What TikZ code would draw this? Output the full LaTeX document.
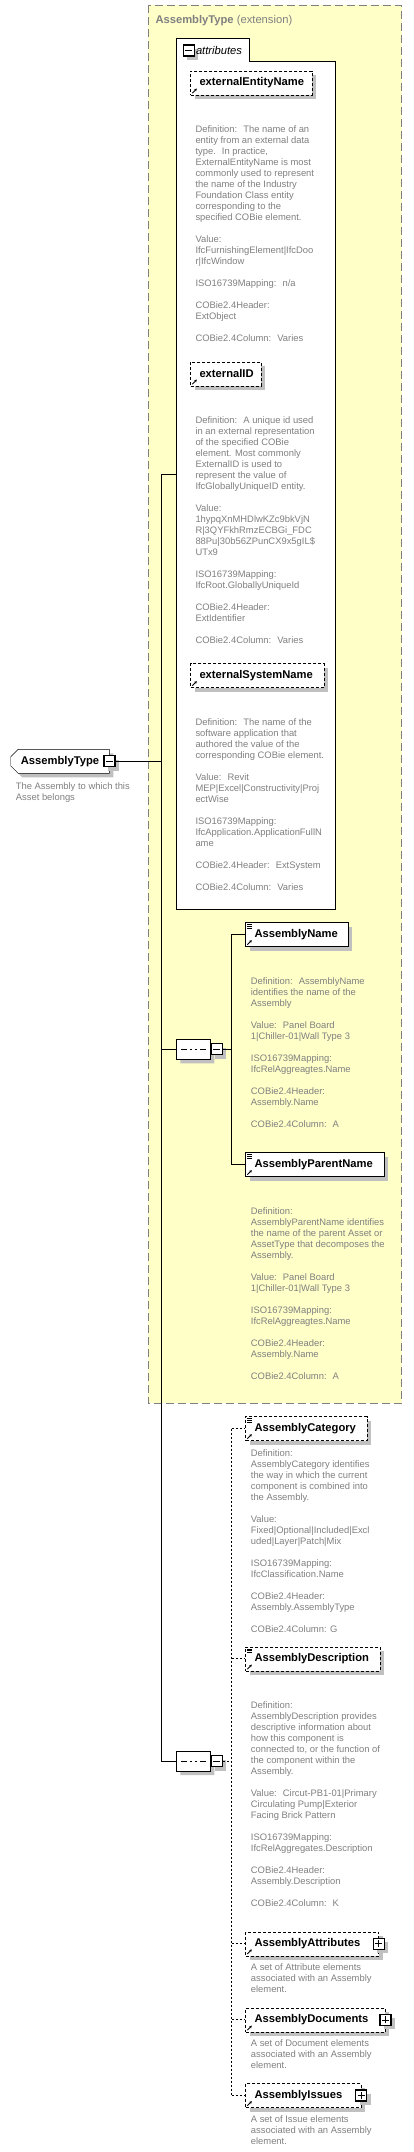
\documentclass[tikz,border=0pt]{standalone}
\usepackage{fontspec}
\setmainfont{Liberation Sans}
\usetikzlibrary{shapes.misc,shadows,arrows.meta,positioning}
\definecolor{typeyellow}{RGB}{255,255,200}
\definecolor{docgrey}{RGB}{128,128,128}
\definecolor{shadowgrey}{RGB}{192,192,192}
\hyphenpenalty=10000
\exhyphenpenalty=10000

\tikzset{
  shade box/.style={general shadow={fill=shadowgrey,shadow xshift=4pt,shadow yshift=-4pt}},
  elem/.style={draw,fill=white,rectangle,shade box,anchor=north west,minimum height=24pt,
    inner xsep=9pt,inner ysep=0pt,align=left,font=\fontsize{11.2}{13}\selectfont\bfseries},
  optelem/.style={elem,dash pattern=on 3pt off 2pt},
  doc/.style={anchor=north west,inner sep=0pt,align=left,text=docgrey,font=\fontsize{9.4}{11}\selectfont},
  tog/.style={draw,fill=white,line width=1.3pt,minimum size=11pt,inner sep=0pt,shade box,
    path picture={\draw[line width=0.8pt] ([xshift=2pt]path picture bounding box.west) -- ([xshift=-2pt]path picture bounding box.east);}},
  togplus/.style={draw,fill=white,line width=1.3pt,minimum size=11pt,inner sep=0pt,shade box,
    path picture={\draw[line width=0.8pt] ([xshift=2pt]path picture bounding box.west) -- ([xshift=-2pt]path picture bounding box.east)
      ([yshift=2pt]path picture bounding box.south) -- ([yshift=-2pt]path picture bounding box.north);}},
  seq/.style={chamfered rectangle,chamfered rectangle xsep=5pt,draw,fill=white,minimum width=34pt,
    minimum height=20pt,inner sep=0pt,shade box,
    path picture={\draw ([xshift=4.7pt]path picture bounding box.west) -- ([xshift=-4.7pt]path picture bounding box.east);
      \foreach \d in {-5,0,5} \fill ([xshift=\d pt]path picture bounding box.center) +(-1.4pt,-1.4pt) rectangle +(1.4pt,1.4pt);}},
  refmark/.pic={\draw[line width=0.9pt,-{Stealth[length=2.6pt,width=2.8pt]}] (0,0) -- (4.5pt,4.5pt);},
  seqmark/.pic={\draw[line width=0.7pt] (0,0) -- (5pt,0) (0,-1.7pt) -- (5pt,-1.7pt) (0,-3.4pt) -- (5pt,-3.4pt);},
  conn/.style={line width=0.9pt},
  optconn/.style={line width=0.9pt,dash pattern=on 2pt off 2pt}
}

\begin{document}
\begin{tikzpicture}[x=1pt,y=-1pt,>=stealth]
\useasboundingbox (0,0) rectangle (413,2152);

% extension frame
\draw[fill=typeyellow,draw=docgrey,line width=0.8pt,dash pattern=on 8pt off 4pt] (148.3,5.3) rectangle (401.7,1403.3);
\node[anchor=base west,inner sep=0pt,text=docgrey,font=\fontsize{11.2}{13}\selectfont] (title) at (155.3,23.3) {\textbf{AssemblyType} (extension)};

% attributes group
\draw[fill=white,line width=1pt] (176.3,909.3) -- (176.3,38.3) -- (249.3,38.3) -- (249.3,61.3) -- (335.3,61.3) -- (335.3,909.3) -- cycle;
\node[tog] (attrt) at (188.8,50.5) {};
\node[anchor=west,inner sep=0pt,font=\fontsize{11.2}{13}\selectfont\itshape] (attrlabel) at (195.8,50.5) {attributes};

\node[optelem,text width=103.4pt] (een) at (190.3,70.7) {externalEntityName};
\node[doc] (deen) at (195.3,125.1) {Definition:~ The name of an\\
entity from an external data\\
type.~ In practice,\\
ExternalEntityName is most\\
commonly used to represent\\
the name of the Industry\\
Foundation Class entity\\
corresponding to the\\
specified COBie element.\\[11pt]
Value:\\
IfcFurnishingElement|IfcDoo\\
r|IfcWindow\\[11pt]
ISO16739Mapping:~ n/a\\[11pt]
COBie2.4Header:\\
ExtObject\\[11pt]
COBie2.4Column:~ Varies};

\node[optelem,text width=52.4pt] (eid) at (190.3,361.7) {externalID};
\node[doc] (deid) at (195.3,416.1) {Definition:~ A unique id used\\
in an external representation\\
of the specified COBie\\
element. Most commonly\\
ExternalID is used to\\
represent the value of\\
IfcGloballyUniqueID entity.\\[11pt]
Value:\\
1hypqXnMHDlwKZc9bkVjN\\
R|3QYFkhRmzECBGi\_FDC\\
88Pu|30b56ZPunCX9x5gIL\$\\
UTx9\\[11pt]
ISO16739Mapping:\\
IfcRoot.GloballyUniqueId\\[11pt]
COBie2.4Header:\\
ExtIdentifier\\[11pt]
COBie2.4Column:~ Varies};

\node[optelem,text width=115.4pt] (esn) at (190.3,663.3) {externalSystemName};
\node[doc] (desn) at (195.3,718.1) {Definition:~ The name of the\\
software application that\\
authored the value of the\\
corresponding COBie element.\\[11pt]
Value:~ Revit\\
MEP|Excel|Constructivity|Proj\\
ectWise\\[11pt]
ISO16739Mapping:\\
IfcApplication.ApplicationFullN\\
ame\\[11pt]
COBie2.4Header:~ ExtSystem\\[11pt]
COBie2.4Column:~ Varies};

% root element
\node[chamfered rectangle,chamfered rectangle corners={north west,south west},chamfered rectangle xsep=4pt,
  draw,fill=white,shade box,minimum width=98.6pt,minimum height=24pt,inner sep=0pt,
  font=\fontsize{11.2}{13}\selectfont\bfseries] (root) at (60,761.3) {AssemblyType};
\node[tog] (rtog) at (root.east) {};
\node[doc] (droot) at (15.7,782.1) {The Assembly to which this\\Asset belongs};

% sequences
\node[seq] (seqA) at (193.3,1049.3) {};
\node[tog,right=0pt of seqA] (seqAt) {};
\node[seq] (seqB) at (193.3,1761) {};
\node[tog,right=0pt of seqB] (seqBt) {};

\coordinate (attrin) at (176.3,474.3);
\coordinate (trunk) at (161.3,474.3);
\draw[conn] (attrin) -- (trunk) -- (trunk |- seqB.west) -- (seqB.west);
\draw[conn] (trunk |- seqA.west) -- (seqA.west);
\draw[conn] (rtog.east) -- (rtog.east -| trunk);

\node[elem,text width=84.4pt] (an) at (245.3,922.3) {AssemblyName};
\node[doc] (dan) at (250.7,977.1) {Definition:~ AssemblyName\\
identifies the name of the\\
Assembly\\[11pt]
Value:~ Panel Board\\
1|Chiller-01|Wall Type 3\\[11pt]
ISO16739Mapping:\\
IfcRelAggreagtes.Name\\[11pt]
COBie2.4Header:\\
Assembly.Name\\[11pt]
COBie2.4Column:~ A};

\node[elem,text width=120.4pt] (apn) at (245.3,1152.3) {AssemblyParentName};
\node[doc] (dapn) at (250.7,1207.1) {Definition:\\
AssemblyParentName identifies\\
the name of the parent Asset or\\
AssetType that decomposes the\\
Assembly.\\[11pt]
Value:~ Panel Board\\
1|Chiller-01|Wall Type 3\\[11pt]
ISO16739Mapping:\\
IfcRelAggreagtes.Name\\[11pt]
COBie2.4Header:\\
Assembly.Name\\[11pt]
COBie2.4Column:~ A};

\coordinate (fanA) at ([xshift=9pt]seqAt.east);
\draw[conn] (seqAt.east) -- (fanA);
\draw[conn] (an.west) -| (fanA);
\draw[conn] (apn.west) -| (fanA);

\node[optelem,text width=103.4pt] (ac) at (245.3,1416.3) {AssemblyCategory};
\node[doc] (dac) at (250.7,1449.1) {Definition:\\
AssemblyCategory identifies\\
the way in which the current\\
component is combined into\\
the Assembly.\\[11pt]
Value:\\
Fixed|Optional|Included|Excl\\
uded|Layer|Patch|Mix\\[11pt]
ISO16739Mapping:\\
IfcClassification.Name\\[11pt]
COBie2.4Header:\\
Assembly.AssemblyType\\[11pt]
COBie2.4Column: G};

\node[optelem,text width=116.4pt] (ad) at (245.3,1646.7) {AssemblyDescription};
\node[doc] (dad) at (250.7,1701.1) {Definition:\\
AssemblyDescription provides\\
descriptive information about\\
how this component is\\
connected to, or the function of\\
the component within the\\
Assembly.\\[11pt]
Value:~ Circut-PB1-01|Primary\\
Circulating Pump|Exterior\\
Facing Brick Pattern\\[11pt]
ISO16739Mapping:\\
IfcRelAggregates.Description\\[11pt]
COBie2.4Header:\\
Assembly.Description\\[11pt]
COBie2.4Column:~ K};

\node[optelem,text width=115pt] (aa) at (245.3,1931.5) {AssemblyAttributes};
\node[togplus] (aat) at (aa.east) {};
\node[doc] (daa) at (250.7,1963.9) {A set of Attribute elements\\associated with an Assembly\\element.};

\node[optelem,text width=121.7pt] (adoc) at (245.3,2007.7) {AssemblyDocuments};
\node[togplus] (adoct) at (adoc.east) {};
\node[doc] (dadoc) at (250.7,2039.7) {A set of Document elements\\associated with an Assembly\\element.};

\node[optelem,text width=97.4pt] (ai) at (245.3,2083.3) {AssemblyIssues};
\node[togplus] (ait) at (ai.east) {};
\node[doc] (dai) at (250.7,2115.7) {A set of Issue elements\\associated with an Assembly\\element.};

\coordinate (fanB) at ([xshift=9pt]seqBt.east);
\draw[optconn] (seqBt.east) -- (fanB);
\draw[optconn] (fanB |- ac.west) -- (fanB |- ai.west);
\foreach \n in {ac,ad,aa,adoc,ai}
  \draw[optconn] (fanB |- \n.west) -- (\n.west);

% icons
\foreach \n in {een,eid,esn,an,apn,ac,ad,aa,adoc,ai}
  \pic at ([shift={(2pt,2pt)}]\n.south west) {refmark};
\foreach \n in {an,apn,ac,ad}
  \pic at ([shift={(2pt,-2.2pt)}]\n.north west) {seqmark};
\end{tikzpicture}
\end{document}
